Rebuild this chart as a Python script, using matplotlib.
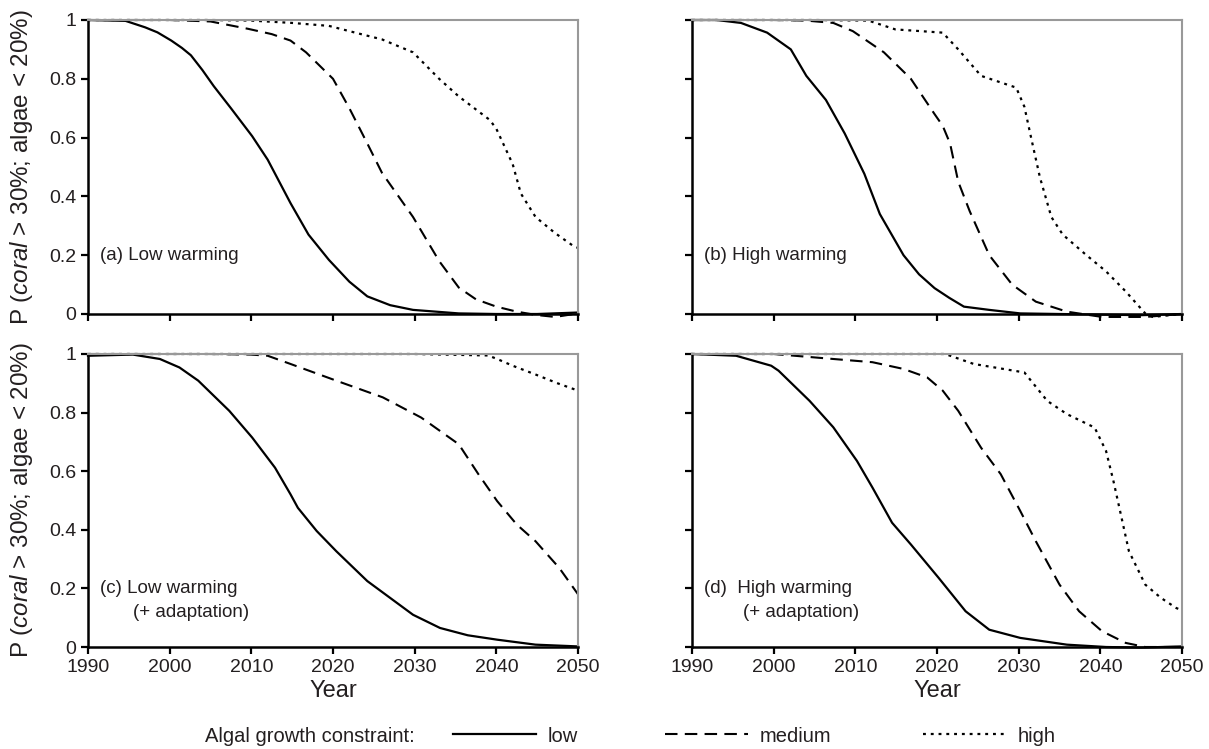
import numpy as np
import matplotlib
matplotlib.use("Agg")
import matplotlib.pyplot as plt
from matplotlib.lines import Line2D

plt.rcParams['font.family'] = ['Liberation Sans', 'DejaVu Sans']
plt.rcParams['mathtext.fontset'] = 'custom'
plt.rcParams['mathtext.rm'] = 'Liberation Sans'
plt.rcParams['mathtext.it'] = 'Liberation Sans:italic'

# ---- data ----
# (a) low warming
a_low_x = [1990, 1994.6, 1997, 1998.5, 2000.2, 2001.5, 2002.6, 2004, 2005.4, 2007.5, 2010.1, 2012, 2014.8, 2017, 2019.5, 2022, 2024.2, 2027, 2029.8, 2035.4, 2040, 2045, 2050]
a_low_y = [1, 0.997, 0.975, 0.958, 0.93, 0.905, 0.88, 0.83, 0.775, 0.7, 0.605, 0.525, 0.377, 0.27, 0.184, 0.11, 0.06, 0.03, 0.014, 0.002, 0, 0, 0.005]
a_med_x = [1990, 2000, 2005, 2009.6, 2012.5, 2014.8, 2016.7, 2020, 2022, 2024.2, 2026, 2029.8, 2033, 2035.4, 2037.5, 2040, 2042.5, 2044.8, 2047.2, 2050]
a_med_y = [1, 1, 0.995, 0.97, 0.952, 0.93, 0.89, 0.8, 0.7, 0.58, 0.48, 0.33, 0.18, 0.09, 0.05, 0.025, 0.008, -0.003, -0.01, 0.002]
a_high_x = [1990, 2005, 2010, 2015, 2019.5, 2023, 2026, 2029.8, 2033, 2035.4, 2039.2, 2040, 2041, 2042, 2043, 2044.8, 2047.2, 2049.5, 2050]
a_high_y = [1, 1, 0.998, 0.99, 0.98, 0.955, 0.934, 0.89, 0.8, 0.74, 0.66, 0.63, 0.57, 0.51, 0.41, 0.33, 0.275, 0.23, 0.225]

# (b) high warming
b_low_x = [1990, 1993, 1996, 1999.2, 2002.1, 2004, 2006.4, 2008.7, 2011.1, 2013, 2015.9, 2017.8, 2019.7, 2021.5, 2023.3, 2026.4, 2030.2, 2035, 2040, 2045, 2050]
b_low_y = [1, 1, 0.99, 0.957, 0.9, 0.81, 0.728, 0.614, 0.477, 0.34, 0.2, 0.135, 0.088, 0.055, 0.025, 0.014, 0.002, 0, -0.002, -0.004, 0]
b_med_x = [1990, 2000, 2004, 2007.3, 2009.7, 2013.5, 2016.8, 2019.7, 2020.7, 2021.6, 2022.6, 2024, 2026.4, 2029.2, 2032.1, 2035.9, 2040.2, 2045.5, 2050]
b_med_y = [1, 1, 0.998, 0.99, 0.962, 0.89, 0.8, 0.68, 0.64, 0.58, 0.45, 0.35, 0.2, 0.1, 0.042, 0.008, -0.01, -0.01, 0]
b_high_x = [1990, 2005, 2011.6, 2014.9, 2020.7, 2022.6, 2025.4, 2029.7, 2030.7, 2031.6, 2032.6, 2034, 2035.4, 2038.3, 2040.7, 2043.1, 2045.5, 2046.4, 2050]
b_high_y = [1, 1, 0.998, 0.968, 0.957, 0.9, 0.81, 0.77, 0.705, 0.59, 0.465, 0.33, 0.27, 0.2, 0.145, 0.077, 0.002, -0.01, 0]

# (c) low warming + adaptation
c_low_x = [1990, 1995.5, 1998.8, 2001.2, 2003.5, 2007.3, 2010.1, 2012.9, 2014.8, 2015.7, 2018, 2020.4, 2024.2, 2029.8, 2033.1, 2036.5, 2040.1, 2044.8, 2050]
c_low_y = [0.994, 0.998, 0.983, 0.954, 0.909, 0.806, 0.715, 0.612, 0.521, 0.475, 0.396, 0.327, 0.225, 0.11, 0.065, 0.04, 0.025, 0.008, 0.002]
c_med_x = [1990, 2005, 2010, 2012, 2014.8, 2020.4, 2026.1, 2030.8, 2035.4, 2037.8, 2040.1, 2042.5, 2044.8, 2047.7, 2050]
c_med_y = [1, 1, 0.998, 0.994, 0.966, 0.909, 0.852, 0.783, 0.692, 0.59, 0.498, 0.418, 0.361, 0.27, 0.18]
c_high_x = [1990, 2030, 2039, 2040.1, 2042, 2044.8, 2047.5, 2050]
c_high_y = [1, 1, 0.995, 0.983, 0.96, 0.93, 0.9, 0.875]

# (d) high warming + adaptation
d_low_x = [1990, 1995.4, 1999.7, 2000.6, 2004.4, 2007.3, 2010.2, 2012.1, 2014.5, 2016.8, 2020.2, 2023.5, 2026.4, 2030.2, 2035.9, 2040.7, 2045, 2050]
d_low_y = [1, 0.994, 0.96, 0.943, 0.84, 0.75, 0.635, 0.544, 0.424, 0.35, 0.236, 0.122, 0.059, 0.031, 0.008, 0, -0.002, 0.002]
d_med_x = [1990, 2000, 2007.3, 2012.1, 2015.9, 2018.8, 2020.7, 2022.6, 2025.4, 2027.8, 2030.2, 2032.1, 2035, 2037.4, 2040.2, 2043.1, 2045.5, 2050]
d_med_y = [1, 1, 0.983, 0.972, 0.949, 0.92, 0.875, 0.806, 0.68, 0.59, 0.464, 0.361, 0.213, 0.122, 0.054, 0.014, 0, 0]
d_high_x = [1990, 2021, 2024.5, 2030.7, 2033.5, 2035.9, 2039.3, 2040.7, 2041.6, 2042.6, 2043.5, 2045.5, 2047.4, 2049.3, 2050]
d_high_y = [1, 1, 0.966, 0.937, 0.84, 0.795, 0.749, 0.669, 0.567, 0.441, 0.327, 0.213, 0.168, 0.133, 0.125]

years_ticks = [1990, 2000, 2010, 2020, 2030, 2040, 2050]
p_ticks = [0, 0.2, 0.4, 0.6, 0.8, 1]
p_labels = ['0', '0.2', '0.4', '0.6', '0.8', '1']
series_names = ['low', 'medium', 'high']

panels = [
    ('(a) Low warming', None, [(a_low_x, a_low_y), (a_med_x, a_med_y), (a_high_x, a_high_y)]),
    ('(b) High warming', None, [(b_low_x, b_low_y), (b_med_x, b_med_y), (b_high_x, b_high_y)]),
    ('(c) Low warming', '(+ adaptation)', [(c_low_x, c_low_y), (c_med_x, c_med_y), (c_high_x, c_high_y)]),
    ('(d)  High warming', '(+ adaptation)', [(d_low_x, d_low_y), (d_med_x, d_med_y), (d_high_x, d_high_y)]),
]

styles = [dict(ls='-', lw=1.6),
          dict(ls=(0, (6, 3.5)), lw=1.5),
          dict(ls=(0, (1.3, 2.2)), lw=1.6)]

txt = '#231f20'
W, H = 1209, 749
fig = plt.figure(figsize=(W / 100, H / 100), dpi=100)

# axes boxes in pixels: left, top(y=1), right, bottom(y=0)
boxes = [(88, 20, 578, 314), (692, 20, 1182, 314),
         (88, 354, 578, 647), (692, 354, 1182, 647)]
indent = [None, None, 0.092, 0.104]

for i, (box, (lab1, lab2, data)) in enumerate(zip(boxes, panels)):
    l, t, r, b = box
    ax = fig.add_axes([l / W, 1 - b / H, (r - l) / W, (b - t) / H])
    for (xs, ys), st in zip(data, styles):
        ax.plot(xs, ys, color='black', clip_on=False, solid_joinstyle='round', **st)
    ax.set_xlim(1990, 2050)
    ax.set_ylim(0, 1)
    ax.set_xticks(years_ticks)
    ax.set_yticks(p_ticks)
    for side in ['top', 'right']:
        ax.spines[side].set_color('#999999')
        ax.spines[side].set_linewidth(1.5)
    for side in ['left', 'bottom']:
        ax.spines[side].set_color('black')
        ax.spines[side].set_linewidth(1.8)
    ax.tick_params(direction='out', length=5, width=1.6, labelsize=14, pad=3.5, colors='black', labelcolor=txt)
    if i % 2 == 0:
        ax.set_yticklabels(p_labels)
        ax.set_ylabel(r'P ($\it{coral}$ > 30%; algae < 20%)', fontsize=17.4, color=txt)
        ax.yaxis.set_label_coords(-0.108, 0.5)
    else:
        ax.set_yticklabels([])
    if i < 2:
        ax.set_xticklabels([])
    else:
        ax.set_xlabel('Year', fontsize=17, labelpad=3, color=txt)
    ax.text(0.025, 0.2, lab1, transform=ax.transAxes, fontsize=13.5, va='center', ha='left', color=txt)
    if lab2:
        ax.text(indent[i], 0.117, lab2, transform=ax.transAxes, fontsize=13.5, va='center', ha='left', color=txt)

# legend
ly = 1 - 736 / H
fig.text(205 / W, ly, 'Algal growth constraint:', fontsize=14.5, va='center', ha='left', color=txt)
leg_x = [453, 665, 923]
for name, st, lx in zip(series_names, styles, leg_x):
    h = Line2D([], [], color='black', **st)
    fig.legend([h], [name], loc='center left', bbox_to_anchor=(lx / W, ly), frameon=False,
               handlelength=4.1, handletextpad=0.6, fontsize=14.5, borderpad=0, borderaxespad=0,
               labelcolor=txt)

fig.savefig('out.png', dpi=100)
